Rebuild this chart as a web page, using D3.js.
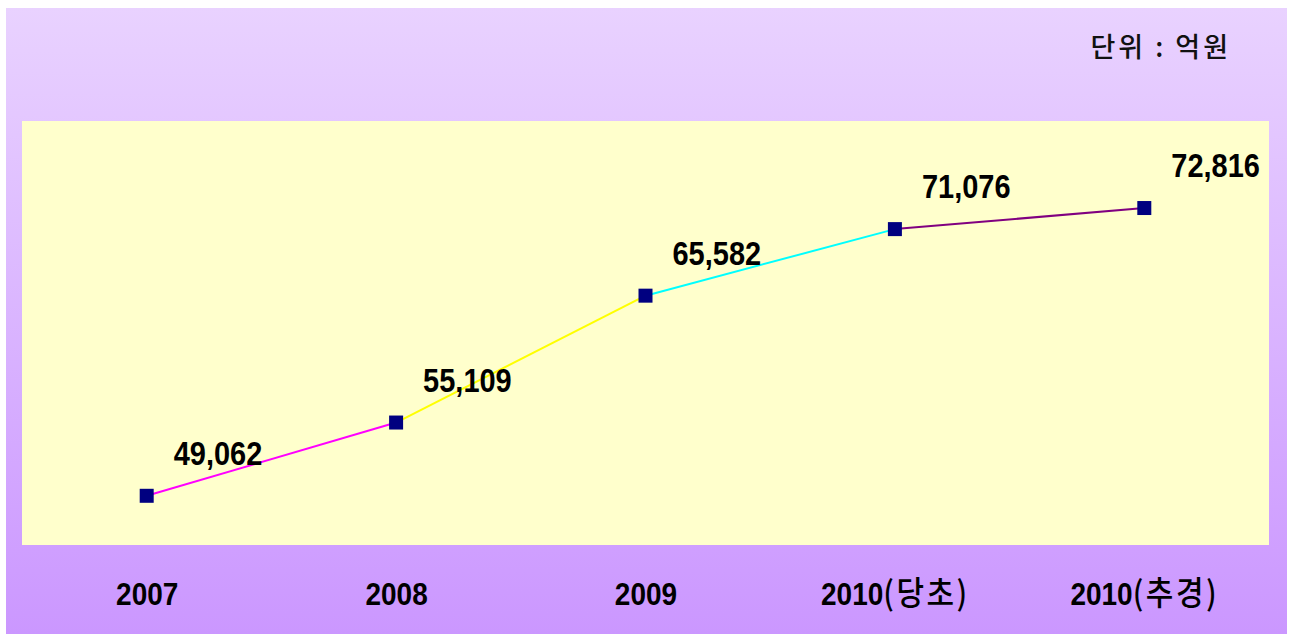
<!DOCTYPE html>
<html>
<head>
<meta charset="utf-8">
<script src="https://cdn.jsdelivr.net/npm/d3@7"></script>
<style>
  body { margin: 0; background: #ffffff; }
  text { font-family: "Liberation Sans", Arial, "Noto Sans CJK KR", sans-serif; }
</style>
</head>
<body>
<div id="canvas"></div>
<script>
"use strict"

/* chart data */
let years = ["2007", "2008", "2009", "2010(당초)", "2010(추경)"];
let budget = [49062, 55109, 65582, 71076, 72816];
let segmentColors = ["#FF00FF", "#FFFF00", "#00FFFF", "#800080"];
let unitLabel = "단위 : 억원";

let drawing = d3.select("#canvas")
    .append("svg")
    .attr("width", 1290)
    .attr("height", 635);

/* purple background with a soft vertical gradient */
let grad = drawing.append("defs").append("linearGradient")
    .attr("id", "bg")
    .attr("x1", 0).attr("y1", 0)
    .attr("x2", 0).attr("y2", 1);
grad.append("stop").attr("offset", "0%").attr("stop-color", "#E9D2FF");
grad.append("stop").attr("offset", "100%").attr("stop-color", "#CB97FF");

let background = drawing.append("rect")
    .attr("x", 6)
    .attr("y", 8)
    .attr("width", 1281)
    .attr("height", 626)
    .attr("fill", "url(#bg)");

/* plot area */
let plot = { left: 22, top: 121, right: 1269, bottom: 545 };

let plotArea = drawing.append("rect")
    .attr("x", plot.left)
    .attr("y", plot.top)
    .attr("width", plot.right - plot.left)
    .attr("height", plot.bottom - plot.top)
    .attr("fill", "#FFFFCC");

let x = d3.scalePoint()
    .domain(years)
    .range([plot.left, plot.right])
    .padding(0.5);

let y = d3.scaleLinear()
    .domain([45000, 80000])
    .range([plot.bottom, plot.top]);

/* x axis labels (no axis line); hangul part set in a lighter CJK face */
let xAxis = drawing.append("g")
    .attr("transform", "translate(0," + 605 + ")")
    .call(d3.axisBottom(x).tickSize(0).tickPadding(0));
xAxis.select(".domain").remove();
xAxis.selectAll("text")
    .attr("y", 0)
    .attr("dy", 0)
    .attr("fill", "#000")
    .attr("transform", "scale(1,1.1)")
    .style("font-size", "28px")
    .style("font-weight", "bold")
    .each(function (d) {
        let t = d3.select(this).text("");
        let cut = d.indexOf("(");
        let num = cut < 0 ? d : d.slice(0, cut);
        t.append("tspan").text(num);
        if (cut >= 0) {
            t.append("tspan")
                .style("font-family", "'Noto Sans CJK KR', sans-serif")
                .style("font-weight", "500")
                .style("font-size", "30px")
                .style("letter-spacing", "2.5px")
                .text(d.slice(cut));
        }
    });

/* line segments, each with its own colour */
let points = years.map((yr, i) => ({ year: yr, value: budget[i] }));

drawing.append("g")
    .selectAll("line")
    .data(d3.pairs(points))
    .join("line")
    .attr("x1", d => x(d[0].year))
    .attr("y1", d => y(d[0].value))
    .attr("x2", d => x(d[1].year))
    .attr("y2", d => y(d[1].value))
    .attr("stroke", (d, i) => segmentColors[i])
    .attr("stroke-width", 2);

/* square markers */
drawing.append("g")
    .selectAll("rect")
    .data(points)
    .join("rect")
    .attr("x", d => x(d.year) - 7)
    .attr("y", d => y(d.value) - 7)
    .attr("width", 14)
    .attr("height", 14)
    .attr("fill", "#000080");

/* value labels, slightly stretched vertically like the original */
drawing.append("g")
    .selectAll("text")
    .data(points)
    .join("text")
    .attr("transform", d => "translate(" + (x(d.year) + 27) + "," + (y(d.value) - 31) + ") scale(1,1.12)")
    .attr("fill", "#000")
    .style("font-size", "29px")
    .style("font-weight", "bold")
    .text(d => d3.format(",")(d.value));

/* unit label */
let unit = drawing.append("text")
    .attr("x", 1231)
    .attr("y", 57)
    .attr("text-anchor", "end")
    .attr("fill", "#111")
    .style("font-family", "'Noto Sans CJK KR', sans-serif")
    .style("font-size", "27px")
    .style("font-weight", "500")
    .style("letter-spacing", "3px")
    .text(unitLabel);
</script>
</body>
</html>
